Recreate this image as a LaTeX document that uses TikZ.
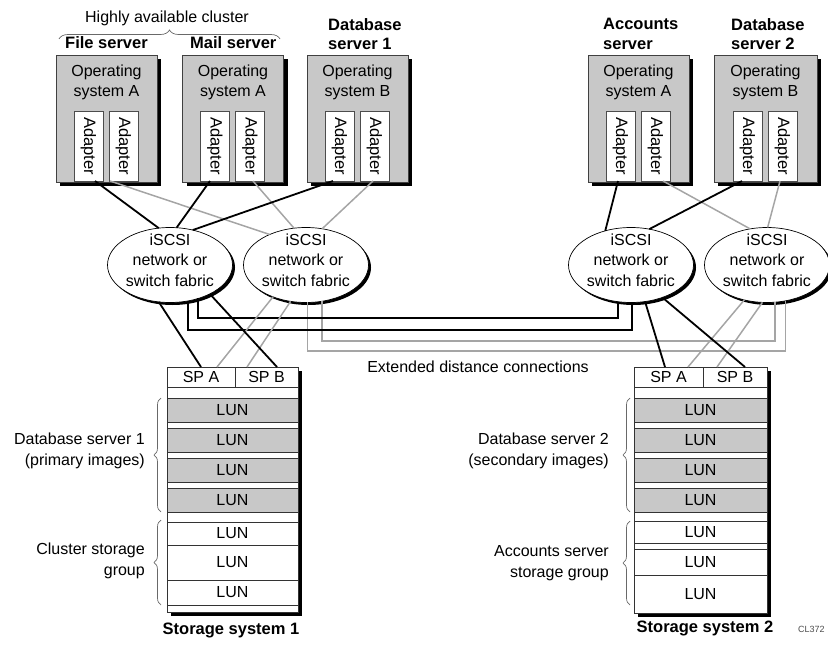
\documentclass[tikz,border=0pt]{standalone}
\usepackage{fontspec}
\setmainfont{Liberation Sans}
\usetikzlibrary{shapes.geometric,shadows,decorations.pathreplacing}
\definecolor{boxgray}{RGB}{200,200,200}
\definecolor{linkgray}{RGB}{165,165,165}
\definecolor{bracegray}{RGB}{105,105,105}
\begin{document}
\begin{tikzpicture}[x=1pt,y=-1pt,
  font=\fontsize{16}{20.5}\selectfont,
  srvbox/.style={draw=black!75, line width=0.6pt, fill=boxgray, minimum width=101,
    minimum height=127, inner sep=0, outer sep=0,
    general shadow={fill=black, shadow xshift=4pt, shadow yshift=-4pt}},
  adapter/.style={draw=black!70, line width=0.6pt, fill=white, minimum width=29,
    minimum height=70, inner sep=0, outer sep=0},
  oslabel/.style={align=center, inner sep=0},
  srvname/.style={font=\fontsize{16.5}{19.5}\selectfont\bfseries, align=left,
    anchor=west, inner sep=0},
  switchell/.style={ellipse, draw=black, line width=0.7pt, fill=white,
    minimum width=125, minimum height=75, inner sep=0, outer sep=0,
    general shadow={fill=black, shadow xshift=2.5pt, shadow yshift=-2.5pt}},
  blk/.style={line width=1.8pt, black},
  gry/.style={line width=1.5pt, linkgray},
  stframe/.style={draw=black!80, line width=0.6pt, fill=white, inner sep=0, outer sep=0,
    general shadow={fill=black, shadow xshift=4pt, shadow yshift=-4pt}},
  spcell/.style={draw=black!80, line width=0.6pt, fill=white, minimum height=20,
    inner sep=0, outer sep=0},
  lungray/.style={draw=black!80, line width=0.6pt, fill=boxgray, minimum height=24,
    inner sep=0, outer sep=0},
  lunwhite/.style={draw=black!80, line width=0.6pt, fill=white, inner sep=0, outer sep=0},
  grpbrace/.style={draw=bracegray, line width=0.7pt, decorate,
    decoration={brace, amplitude=7pt}},
  sidelabel/.style={align=right, anchor=east, inner sep=0},
  stname/.style={font=\fontsize{16.5}{19.5}\selectfont\bfseries, inner sep=0}
]
\useasboundingbox (0,0) rectangle (828,645);

% ---------- servers ----------
\node[srvbox] (fs)  at (106.5,118.5) {};
\node[srvbox] (ms)  at (233,118.5) {};
\node[srvbox] (db1) at (357.5,118.5) {};
\node[srvbox] (acc) at (638.5,118.5) {};
\node[srvbox, minimum width=103] (db2) at (765.5,118.5) {};

\foreach \s/\os in {fs/A, ms/A, db1/B, acc/A, db2/B}
  \node[oslabel] at ([yshift=-27.5pt]\s.north) {Operating\\system \os};

\foreach \n/\x in {fa1/88.5, fa2/123.5, ma1/215, ma2/250, da1/339.5, da2/374.5,
                   aa1/620.5, aa2/655.5, ba1/747.5, ba2/782.5}{
  \node[adapter] (\n) at (\x,146) {};
  \node[rotate=-90, inner sep=0, font=\fontsize{16.5}{20}\selectfont] at (\n) {Adapter};
}

% server titles
\node[font=\fontsize{16}{19}\selectfont, inner sep=0] (hac) at (167,18) {Highly available cluster};
\draw[grpbrace, decoration={brace, amplitude=9pt}] (59,39) -- (280,39);
\node[srvname] (fsn)  at (65,43)  {File server};
\node[srvname] (msn)  at (190,43) {Mail server};
\node[srvname] (d1n)  at (328,34) {Database\\server 1};
\node[srvname] (acn)  at (603,34) {Accounts\\server};
\node[srvname] (d2n)  at (731,34) {Database\\server 2};

% ---------- switch fabrics ----------
\node[switchell] (e1) at (170,265) {};
\node[switchell] (e2) at (306,265) {};
\node[switchell] (e3) at (631,265) {};
\node[switchell] (e4) at (767,265) {};
\foreach \e in {e1,e2,e3,e4}
  \node[align=center, inner sep=0] at ([yshift=5pt]\e.center) {iSCSI\\network or\\switch fabric};

% ---------- storage system 1 ----------
\node[stframe, minimum width=131, minimum height=245] (st1) at (232.5,489.5) {};
\node[spcell, minimum width=68] (spa1) at (201,377) {SP A};
\node[spcell, minimum width=63] (spb1) at (266.5,377) {SP B};
\foreach \y [count=\i] in {410,440,470,500}
  \node[lungray, minimum width=131] (s1g\i) at (232.5,\y) {LUN};
\node[lunwhite, minimum width=131, minimum height=23] (s1w1) at (232.5,533.5) {LUN};
\node[lunwhite, minimum width=131, minimum height=35] (s1w2) at (232.5,562.5) {LUN};
\node[lunwhite, minimum width=131, minimum height=25] (s1w3) at (232.5,592.5) {LUN};

% ---------- storage system 2 ----------
\node[stframe, minimum width=133, minimum height=246] (st2) at (700.5,490) {};
\node[spcell, minimum width=69] (spa2) at (668.5,377) {SP A};
\node[spcell, minimum width=64] (spb2) at (735,377) {SP B};
\foreach \y [count=\i] in {410,440,470,500}
  \node[lungray, minimum width=133] (s2g\i) at (700.5,\y) {LUN};
\node[lunwhite, minimum width=133, minimum height=22] (s2w1) at (700.5,532) {LUN};
\node[lunwhite, minimum width=133, minimum height=26] (s2w2) at (700.5,562) {LUN};
\node[lunwhite, minimum width=133, minimum height=38] (s2w3) at (700.5,594) {LUN};

% group braces and labels
\draw[grpbrace] (161,512) -- (161,398);
\draw[grpbrace] (161,605) -- (161,520);
\draw[grpbrace] (630,512) -- (630,398);
\draw[grpbrace] (630,605) -- (630,521);
\node[sidelabel] (g1) at (145,451) {Database server 1\\(primary images)};
\node[sidelabel] (g2) at (145,561) {Cluster storage\\group};
\node[sidelabel] (g3) at (609,451) {Database server 2\\(secondary images)};
\node[sidelabel] (g4) at (609,563) {Accounts server\\storage group};

\node[stname] (sn1) at (231,630) {Storage system 1};
\node[stname] (sn2) at (705,628) {Storage system 2};
\node[anchor=west, inner sep=0, font=\fontsize{9}{10}\selectfont, text=black!70] (cl) at (798,629) {CL372};

% ---------- adapter to fabric links ----------
\draw[gry] ([xshift=-13.5pt]fa2.south) -- (e2.140);
\draw[gry] ([xshift=3pt]ma2.south) -- (e2.108);
\draw[gry] ([xshift=-1.5pt]da2.south) -- (e2.66);
\draw[gry] ([xshift=7.5pt]aa2.south) -- (e4.115);
\draw[gry] ([xshift=-2.5pt]ba2.south) -- (e4.89);
\draw[blk] ([xshift=6.5pt]fa1.south) -- (e1.107);
\draw[blk] ([xshift=-5pt]ma1.south) -- (e1.80);
\draw[blk] ([xshift=-6.5pt]da1.south) -- (e1.57);
\draw[blk] ([xshift=-2.5pt]aa1.south) -- (e3.127);
\draw[blk] ([xshift=-5.5pt]ba1.south) -- (e3.63);

% ---------- extended distance connections ----------
\coordinate (busA) at (0,318);
\coordinate (busB) at (0,330);
\coordinate (busC) at (0,341);
\coordinate (busD) at (0,351);
\draw[gry] (e2.294) -- (e2.294 |- busC) -| (e4.282);
\draw[gry] (e2.272) -- (e2.272 |- busD) -| (e4.297);
\draw[blk] (e1.310) -- (e1.310 |- busA) -| (e3.250);
\draw[blk] (e1.297) -- (e1.297 |- busB) -| (e3.271);
\node[inner sep=0] (xdc) at (478,367) {Extended distance connections};

% ---------- fabric to storage processor links ----------
\draw[gry] (e2.224) -- ([xshift=16pt]spa1.north);
\draw[gry] (e2.247) -- ([xshift=-19.5pt]spb1.north);
\draw[gry] (e4.237) -- ([xshift=19.5pt]spa2.north);
\draw[gry] (e4.263) -- ([xshift=-18pt]spb2.north);
\draw[blk] (e1.253) -- (spa1.north);
\draw[blk] (e1.324) -- ([xshift=10.5pt]spb1.north);
\draw[blk] (e3.291) -- ([xshift=-3.5pt]spa2.north);
\draw[blk] (e3.314) -- ([xshift=10pt]spb2.north);
\end{tikzpicture}
\end{document}
